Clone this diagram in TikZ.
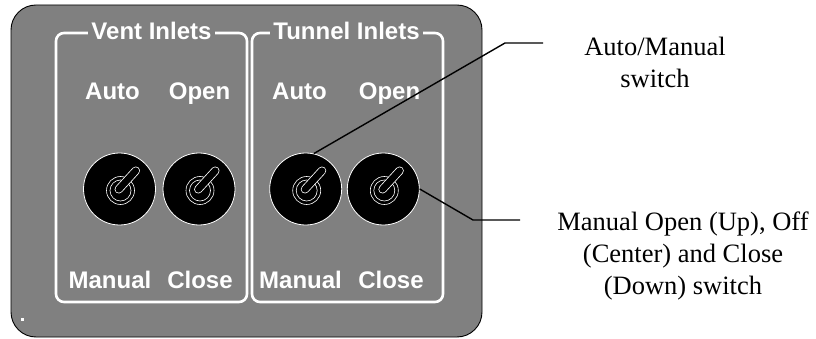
\documentclass[tikz,border=0pt]{standalone}
\usepackage{fontspec}
\usepackage{tikz}
\usepackage{xcolor}
\usetikzlibrary{positioning}
\setmainfont{Liberation Serif}
\newfontfamily\panelfont{Liberation Sans}
\definecolor{panelgray}{RGB}{128,128,128}
\tikzset{
  panellbl/.style={font={\panelfont\bfseries\fontsize{24}{28}\selectfont}, text=white, anchor=base, inner sep=0pt},
  ttl/.style={panellbl, fill=panelgray, inner xsep=3pt, inner ysep=2pt},
  knob/.style={circle, fill=black, draw=white, line width=0.8pt, minimum size=72pt, inner sep=0pt},
  callout/.style={font={\fontsize{26.5}{32}\selectfont}, align=center, anchor=north, inner sep=0pt},
  leader/.style={black, line width=1.4pt},
  lever/.pic={
    \draw[white, line width=0.6pt] (1,1.5) circle (14pt);
    \draw[white, line width=0.6pt] (1,1.5) circle (10.5pt);
    \draw[white, line width=8.4pt, line cap=round] (-0.7,0.3) -- (16.3,-18.3);
    \draw[black, line width=6.8pt, line cap=round] (-0.7,0.3) -- (16.3,-18.3);
  }
}
\begin{document}
\begin{tikzpicture}[x=1pt,y=-1pt]
        \useasboundingbox (0,0) rectangle (816,339);
        \draw[fill=panelgray, line width=0.9pt, rounded corners=25pt] (11,5) rectangle (482,337);
        \draw[white, line width=2.6pt, rounded corners=8pt] (56,33) rectangle (247,302);
        \draw[white, line width=2.6pt, rounded corners=8pt] (252,33) rectangle (443,302);
        \fill[white] (20.5,317.5) rectangle (23.5,320.5);
        \node[ttl] (vent) at (151.5,40) {Vent Inlets};
        \node[ttl] (tunnel) at (346.5,40) {Tunnel Inlets};
        \node[panellbl] (auto1) at (112.5,100) {Auto};
        \node[panellbl] (open1) at (199.5,100) {Open};
        \node[panellbl] (auto2) at (299.5,100) {Auto};
        \node[panellbl] (open2) at (389.5,100) {Open};
        \node[panellbl] (man1) at (110,288) {Manual};
        \node[panellbl] (close1) at (200,288) {Close};
        \node[panellbl] (man2) at (300.5,288) {Manual};
        \node[panellbl] (close2) at (391,288) {Close};
        \node[knob] (k1) at (119.5,189) {};
        \node[knob] (k2) at (199,189) {};
        \node[knob] (k3) at (305.7,189) {};
        \node[knob] (k4) at (383.3,189) {};
        \pic at (k1) {lever};
        \pic at (k2) {lever};
        \pic at (k3) {lever};
        \pic at (k4) {lever};
        \node[callout] (amlbl) at (655,37) {Auto/Manual\\switch};
        \node[callout] (molbl) at (683,212) {Manual Open (Up), Off\\(Center) and Close\\(Down) switch};
        \coordinate (ambend) at (505,43);
        \coordinate (amend) at (543,43);
        \coordinate (mobend) at (473,220);
        \coordinate (moend) at (520,220);
        \draw[leader] (k3.77) -- (ambend) -- (amend);
        \draw[leader] (k4.east) -- (mobend) -- (moend);
    \end{tikzpicture}
\end{document}
